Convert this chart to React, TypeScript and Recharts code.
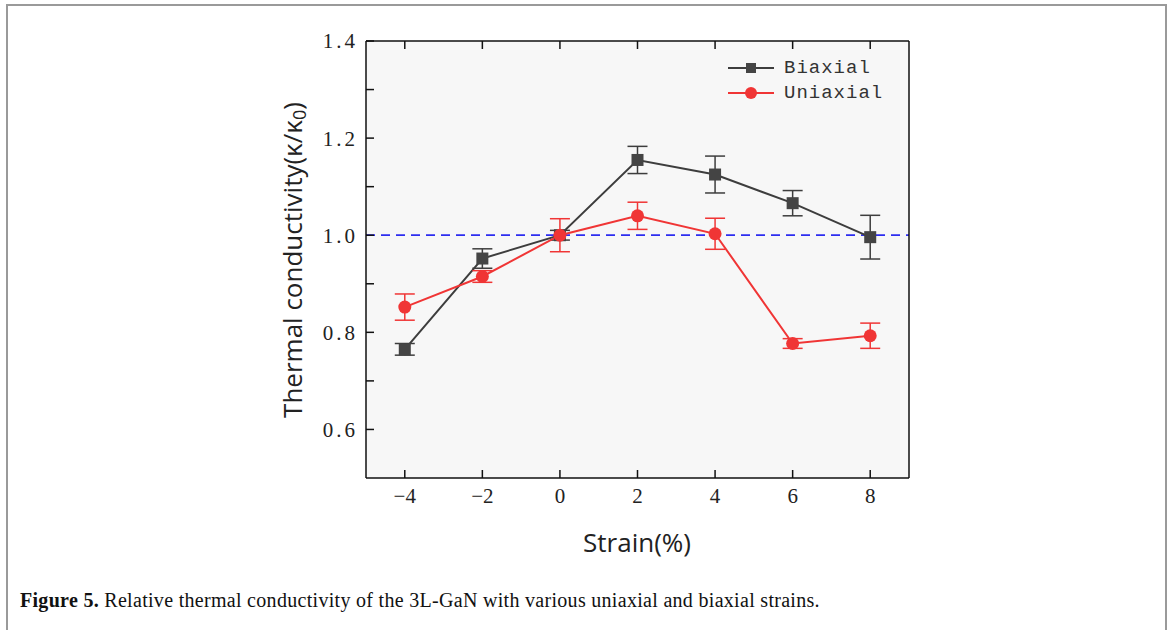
import React from "react";
import {
  LineChart,
  Line,
  XAxis,
  YAxis,
  ErrorBar,
  ReferenceLine,
  CartesianGrid,
  Legend,
} from "recharts";

// strain (%) on the x axis
const strain = [-4, -2, 0, 2, 4, 6, 8];
// relative thermal conductivity k/k0
const biaxial = [0.765, 0.952, 1.0, 1.155, 1.125, 1.066, 0.996];
const biaxialErr = [0.012, 0.02, 0.01, 0.028, 0.038, 0.026, 0.045];
const uniaxial = [0.852, 0.915, 1.0, 1.04, 1.003, 0.777, 0.793];
const uniaxialErr = [0.027, 0.012, 0.034, 0.028, 0.032, 0.01, 0.026];

const xTicks = [-4, -2, 0, 2, 4, 6, 8];
const yTicks = [0.6, 0.7, 0.8, 0.9, 1.0, 1.1, 1.2, 1.3, 1.4];

const data = strain.map((s, i) => ({
  strain: s,
  biaxial: biaxial[i],
  biaxialErr: biaxialErr[i],
  uniaxial: uniaxial[i],
  uniaxialErr: uniaxialErr[i],
}));

const GRAY = "#3d3d3d";
const RED = "#f03535";
const xTickFont = { fontFamily: "Liberation Serif", fontSize: 21, fill: "#222" };
const yTickFont = { fontFamily: "Liberation Serif", fontSize: 21, fill: "#222", letterSpacing: 3 };

const SquareDot = (props: any) => {
  const { cx, cy } = props;
  if (cx == null || cy == null) return null;
  return <rect x={cx - 6} y={cy - 6} width={12} height={12} fill="#444" />;
};

const CircleDot = (props: any) => {
  const { cx, cy } = props;
  if (cx == null || cy == null) return null;
  return <circle cx={cx} cy={cy} r={6.5} fill={RED} />;
};

const fmtY = (v: number) => (Math.round(v * 10) % 2 === 0 ? v.toFixed(1) : "");
const fmtX = (v: number) => (v < 0 ? "\u2212" + Math.abs(v) : String(v));

const renderLegend = () => (
  <div style={{ fontFamily: "Liberation Mono", fontSize: 19, color: "#333", letterSpacing: 1 }}>
    {[
      { name: "Biaxial", color: GRAY, square: true },
      { name: "Uniaxial", color: RED, square: false },
    ].map((it) => (
      <div key={it.name} style={{ display: "flex", alignItems: "center", height: 25 }}>
        <svg width={50} height={14} style={{ marginRight: 8 }}>
          <line x1={2} y1={7} x2={48} y2={7} stroke={it.color} strokeWidth={2} />
          {it.square ? (
            <rect x={20} y={2} width={10} height={10} fill="#444" />
          ) : (
            <circle cx={25} cy={7} r={6} fill={it.color} />
          )}
        </svg>
        <span>{it.name}</span>
      </div>
    ))}
  </div>
);

export default function App() {
  return (
    <div style={{ position: "absolute", left: 0, top: 0, width: 1170, height: 630, background: "#fff", overflow: "hidden" }}>
      <div
        style={{
          position: "absolute",
          left: 6,
          top: 4,
          width: 1157,
          height: 640,
          borderTop: "2px solid #9a9a9a",
          borderLeft: "2px solid #9a9a9a",
          borderRight: "2px solid #9a9a9a",
        }}
      />
      <div style={{ position: "absolute", left: 0, top: 0 }}>
        <LineChart
          width={1170}
          height={630}
          data={data}
          margin={{ top: 40, right: 260, bottom: 122, left: 0 }}
        >
          <CartesianGrid horizontal={false} vertical={false} fill="#f7f7f7" />
          <XAxis
            xAxisId="bottom"
            dataKey="strain"
            type="number"
            domain={[-5, 9]}
            ticks={xTicks}
            tickFormatter={fmtX}
            height={30}
            tickSize={-8}
            tickMargin={18}
            stroke="#111"
            strokeWidth={1.5}
            tick={xTickFont}
            label={{
              content: () => (
                <text x={637} y={552} textAnchor="middle" fontFamily="Open Sans" fontSize={26} fill="#222">
                  Strain(%)
                </text>
              ),
            }}
          />
          <XAxis
            xAxisId="top"
            orientation="top"
            dataKey="strain"
            type="number"
            domain={[-5, 9]}
            ticks={xTicks}
            tickFormatter={() => ""}
            height={1}
            tickSize={-8}
            stroke="#111"
            strokeWidth={1.5}
          />
          <YAxis
            yAxisId="left"
            type="number"
            domain={[0.5, 1.4]}
            ticks={yTicks}
            tickFormatter={fmtY}
            width={366}
            tickSize={-8}
            tickMargin={16}
            stroke="#111"
            strokeWidth={1.5}
            tick={yTickFont}
            label={{
              content: () => (
                <text
                  x={295}
                  y={260}
                  transform="rotate(-90 295 260)"
                  textAnchor="middle"
                  dominantBaseline="middle"
                  fontFamily="Open Sans"
                  fontSize={26}
                  fill="#222"
                >
                  Thermal conductivity(κ/κ
                  <tspan fontSize={18} dy={6}>0</tspan>
                  <tspan dy={-6}>)</tspan>
                </text>
              ),
            }}
          />
          <YAxis
            yAxisId="right"
            orientation="right"
            type="number"
            domain={[0.5, 1.4]}
            ticks={yTicks}
            tickFormatter={() => ""}
            width={1}
            tickSize={-8}
            stroke="#111"
            strokeWidth={1.5}
          />
          <ReferenceLine
            xAxisId="bottom"
            yAxisId="left"
            y={1.0}
            stroke="#2d2df0"
            strokeWidth={1.8}
            strokeDasharray="9 6"
          />
          <Legend
            verticalAlign="middle"
            align="center"
            layout="horizontal"
            wrapperStyle={{ top: 55, left: 726, width: 180 }}
            content={renderLegend}
          />
          <Line
            xAxisId="bottom"
            yAxisId="left"
            dataKey="biaxial"
            name="Biaxial"
            stroke={GRAY}
            strokeWidth={2}
            dot={<SquareDot />}
            isAnimationActive={false}
          >
            <ErrorBar dataKey="biaxialErr" width={10} stroke={GRAY} strokeWidth={1.5} direction="y" />
          </Line>
          <Line
            xAxisId="bottom"
            yAxisId="left"
            dataKey="uniaxial"
            name="Uniaxial"
            stroke={RED}
            strokeWidth={2}
            dot={<CircleDot />}
            isAnimationActive={false}
          >
            <ErrorBar dataKey="uniaxialErr" width={10} stroke={RED} strokeWidth={1.5} direction="y" />
          </Line>
        </LineChart>
      </div>
      <div
        style={{
          position: "absolute",
          left: 20,
          top: 589,
          fontFamily: "Liberation Serif",
          fontSize: 20,
          color: "#111",
          whiteSpace: "nowrap",
          letterSpacing: 0.3,
        }}
      >
        <b>Figure 5.</b> Relative thermal conductivity of the 3L-GaN with various uniaxial and biaxial strains.
      </div>
    </div>
  );
}
